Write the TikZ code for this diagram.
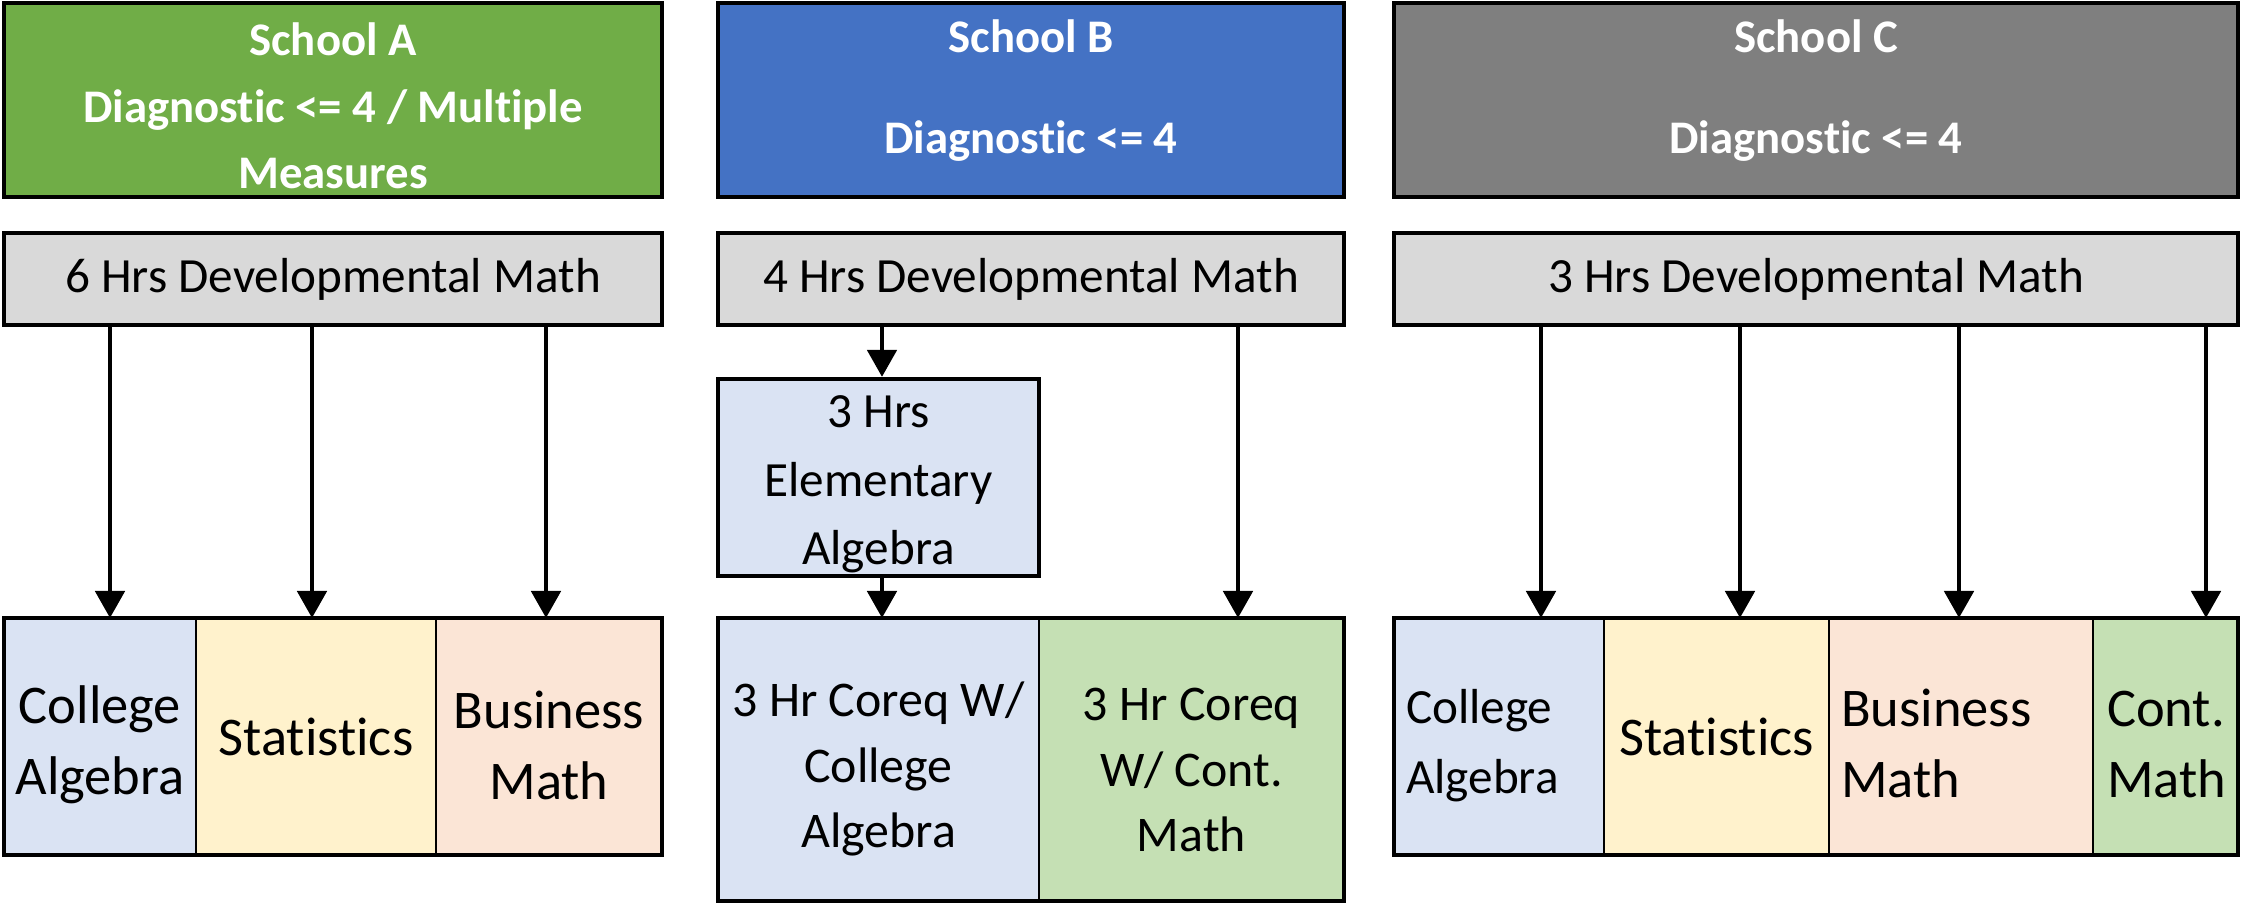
\documentclass[tikz,border=0pt]{standalone}
\usepackage{fontspec}
\setmainfont{Carlito}[RawFeature={-liga;-clig;-calt;-dlig}]
\usepackage{tikz}
\usepackage{xcolor}
\usetikzlibrary{arrows.meta,positioning}
\definecolor{SchoolGreen}{HTML}{70AD47}
\definecolor{SchoolBlue}{HTML}{4472C4}
\definecolor{SchoolGray}{HTML}{7F7F7F}
\definecolor{DevGray}{HTML}{D9D9D9}
\definecolor{AlgBlue}{HTML}{DAE3F3}
\definecolor{StatYellow}{HTML}{FFF2CC}
\definecolor{BusPeach}{HTML}{FBE5D6}
\definecolor{ContGreen}{HTML}{C5E0B4}
\tikzset{
    % Base node style
    basenode/.style={
        draw=black,
        line width=1.2pt,
        inner sep=0pt,
        align=center
    },
    % School header style
    schoolnode/.style={
        basenode,
        text=white,
        minimum height=1.94cm,
        font=\fontsize{13.3}{18.9}\selectfont\bfseries
    },
    % Developmental math bar
    devnode/.style={
        basenode,
        fill=DevGray,
        minimum height=0.92cm,
        font=\fontsize{14}{19}\selectfont
    },
    % Course cell
    cellnode/.style={
        basenode,
        line width=0.8pt,
        outer sep=0pt,
        anchor=north west,
        minimum height=2.37cm,
        font=\fontsize{15.5}{20.3}\selectfont
    },
    % Frame round a row of cells
    framebox/.style={
        draw=black,
        line width=1.2pt
    },
    % Arrow style (straight lines only)
    myarrow/.style={
        ->,
        >={Triangle[width=2.9mm,length=2.7mm]},
        line width=1.4pt,
        draw=black
    }
}
\begin{document}
\begin{tikzpicture}
        \useasboundingbox (0,0) rectangle (22.42,-9.04);

        % School A
        \node[schoolnode, fill=SchoolGreen, minimum width=6.58cm] (schoolA) at (3.33,-1.00) {
            \rule{0pt}{0.45cm}School A\\
            Diagnostic <= 4 / Multiple\\
            Measures
        };
        \node[devnode, minimum width=6.58cm] (devA) at (3.33,-2.79) {6 Hrs Developmental Math};
        \node[cellnode, fill=AlgBlue, minimum width=1.92cm] (catA1) at (0.04,-6.18) {\rule{0pt}{0.55cm}College\\Algebra};
        \node[cellnode, fill=StatYellow, minimum width=2.40cm, right=0pt of catA1] (catA2) {Statistics};
        \node[cellnode, fill=BusPeach, minimum width=2.26cm, right=0pt of catA2] (catA3) {\rule{0pt}{0.55cm}Business\\Math};
        \draw[framebox] (catA1.north west) rectangle (catA3.south east);

        % School B
        \node[schoolnode, fill=SchoolBlue, minimum width=6.26cm] (schoolB) at (10.31,-1.00) {
            School B\\[0.35cm]
            Diagnostic <= 4\rule[-0.265cm]{0pt}{0.1pt}
        };
        \node[devnode, minimum width=6.26cm] (devB) at (10.31,-2.79) {4 Hrs Developmental Math};
        \node[basenode, fill=AlgBlue, minimum width=3.21cm, minimum height=1.97cm,
            font=\fontsize{14}{19.5}\selectfont] (elemB) at (8.785,-4.775) {\rule{0pt}{0.46cm}3 Hrs\\Elementary\\Algebra};
        \node[cellnode, fill=AlgBlue, minimum width=3.21cm, minimum height=2.83cm,
            font=\fontsize{14.2}{18.6}\selectfont] (catB1) at (7.18,-6.18) {\rule{0pt}{0.54cm}3 Hr Coreq W/\\College\\Algebra};
        \node[cellnode, fill=ContGreen, minimum width=3.05cm, minimum height=2.83cm,
            font=\fontsize{14.2}{18.6}\selectfont, right=0pt of catB1] (catB2) {\rule{0pt}{0.54cm}3 Hr Coreq\\W/ Cont.\\Math};
        \draw[framebox] (catB1.north west) rectangle (catB2.south east);

        % School C
        \node[schoolnode, fill=SchoolGray, minimum width=8.44cm] (schoolC) at (18.16,-1.00) {
            School C\\[0.35cm]
            Diagnostic <= 4\rule[-0.265cm]{0pt}{0.1pt}
        };
        \node[devnode, minimum width=8.44cm] (devC) at (18.16,-2.79) {3 Hrs Developmental Math};
        \node[cellnode, fill=AlgBlue, minimum width=2.10cm, text width=1.86cm, align=left,
            font=\fontsize{14}{19.9}\selectfont] (catC1) at (13.94,-6.18) {\rule{0pt}{0.52cm}College\\Algebra};
        \node[cellnode, fill=StatYellow, minimum width=2.25cm, right=0pt of catC1] (catC2) {Statistics};
        \node[cellnode, fill=BusPeach, minimum width=2.64cm, text width=2.40cm, align=left,
            right=0pt of catC2] (catC3) {\rule{0pt}{0.52cm}Business\\Math};
        \node[cellnode, fill=ContGreen, minimum width=1.45cm, text width=1.17cm, align=left,
            right=0pt of catC3] (catC4) {\rule{0pt}{0.52cm}Cont.\\Math};
        \draw[framebox] (catC1.north west) rectangle (catC4.south east);

        % Arrows
        \draw[myarrow] ([xshift=1mm]catA1.north |- devA.south) -- ([xshift=1mm]catA1.north);
        \draw[myarrow] ([xshift=-0.4mm]catA2.north |- devA.south) -- ([xshift=-0.4mm]catA2.north);
        \draw[myarrow] ([xshift=-0.3mm]catA3.north |- devA.south) -- ([xshift=-0.3mm]catA3.north);
        \draw[myarrow] ([xshift=0.35mm]elemB.north |- devB.south) -- ([xshift=0.35mm]elemB.north);
        \draw[myarrow] ([xshift=0.35mm]elemB.south) -- ([xshift=0.35mm]elemB.south |- catB1.north);
        \draw[myarrow] ([xshift=4.65mm]catB2.north |- devB.south) -- ([xshift=4.65mm]catB2.north);
        \draw[myarrow] ([xshift=4.2mm]catC1.north |- devC.south) -- ([xshift=4.2mm]catC1.north);
        \draw[myarrow] ([xshift=2.35mm]catC2.north |- devC.south) -- ([xshift=2.35mm]catC2.north);
        \draw[myarrow] ([xshift=-0.2mm]catC3.north |- devC.south) -- ([xshift=-0.2mm]catC3.north);
        \draw[myarrow] ([xshift=4.05mm]catC4.north |- devC.south) -- ([xshift=4.05mm]catC4.north);
\end{tikzpicture}
\end{document}
